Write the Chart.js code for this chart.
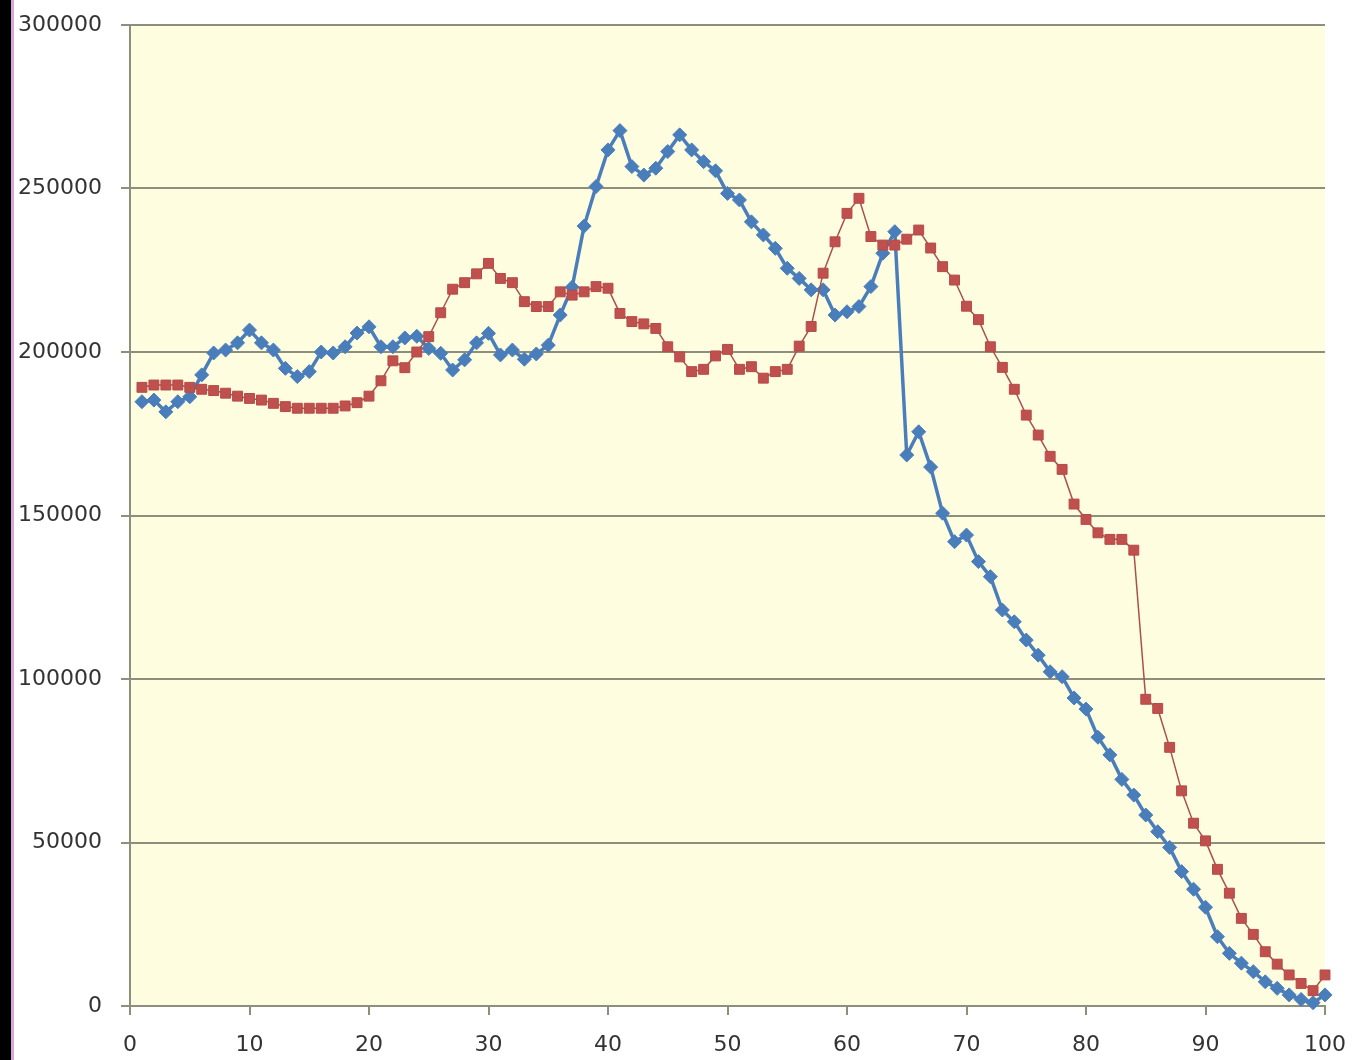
<!DOCTYPE html>
<html>
<head>
<meta charset="utf-8">
<script src="https://cdn.jsdelivr.net/npm/chart.js@4/dist/chart.umd.min.js"></script>
<style>
  html, body { margin: 0; padding: 0; background: #fff; overflow: hidden; }
  #wrap { position: relative; width: 1352px; height: 1060px; }
  #edge { position: absolute; left: 0; top: 0; width: 11px; height: 1060px; background: #000; border-right: 3px solid #d9a6d9; z-index: 2; }
</style>
</head>
<body>
<div id="wrap">
  <div id="edge"></div>
  <canvas id="chart" width="1352" height="1060"></canvas>
</div>
<script>
const xValues = [1,2,3,4,5,6,7,8,9,10,11,12,13,14,15,16,17,18,19,20,
  21,22,23,24,25,26,27,28,29,30,31,32,33,34,35,36,37,38,39,40,
  41,42,43,44,45,46,47,48,49,50,51,52,53,54,55,56,57,58,59,60,
  61,62,63,64,65,66,67,68,69,70,71,72,73,74,75,76,77,78,79,80,
  81,82,83,84,85,86,87,88,89,90,91,92,93,94,95,96,97,98,99,100];

const blueValues = [184800,185300,181700,184800,186300,193000,199700,200600,202800,206700,
  202800,200600,195000,192500,194000,200000,199700,201600,205800,207700,
  201600,201600,204300,204800,201100,199600,194500,197600,202800,205700,
  199100,200600,197800,199400,202100,211300,219800,238500,250600,261800,
  267700,256700,254100,256200,261300,266400,261800,258200,255400,248500,
  246500,239800,235800,231700,225600,222500,219000,219000,211300,212300,
  213900,220000,230200,236800,168500,175600,164800,150700,142000,144000,
  135900,131300,121100,117500,111900,107300,102200,100700,94200,90800,
  82200,76800,69300,64500,58400,53300,48500,41100,35700,30200,
  21200,16100,13100,10500,7400,5400,3400,2000,1000,3400];

const redValues = [189200,189900,189900,189900,189200,188600,188200,187400,186500,185800,
  185300,184300,183300,182800,182800,182800,182800,183500,184500,186500,
  191200,197300,195200,200000,204700,212000,219200,221200,223900,227100,
  222500,221200,215400,213900,213900,218400,217400,218400,220000,219500,
  211800,209300,208600,207200,201600,198500,194000,194700,198800,200800,
  194700,195500,192000,194000,194700,201800,207800,224100,233700,242400,
  247000,235300,232700,232700,234500,237300,231800,226100,222000,214000,
  209900,201600,195300,188600,180700,174600,168100,164100,153500,148800,
  144700,142700,142700,139400,93800,91000,79100,65800,55900,50500,
  41800,34500,26800,21900,16600,12800,9500,6900,4700,9500];

const yTicks = [0, 50000, 100000, 150000, 200000, 250000, 300000];
const xTicks = [0, 10, 20, 30, 40, 50, 60, 70, 80, 90, 100];

const gridColor = '#8e8e7c';

const plotBackground = {
  id: 'plotBackground',
  beforeDraw(chart) {
    const { ctx, chartArea } = chart;
    ctx.save();
    ctx.fillStyle = '#fefde0';
    ctx.fillRect(chartArea.left, chartArea.top, chartArea.right - chartArea.left, chartArea.bottom - chartArea.top);
    ctx.restore();
  }
};

function toPoints(values) {
  return xValues.map((x, i) => ({ x: x, y: values[i] }));
}

new Chart(document.getElementById('chart'), {
  type: 'line',
  data: {
    datasets: [
      {
        label: 'Series 2',
        data: toPoints(redValues),
        borderColor: '#a8524f',
        borderWidth: 1.5,
        pointStyle: 'rect',
        pointRadius: 7,
        pointBackgroundColor: '#c0504d',
        pointBorderColor: '#b44a47',
        pointBorderWidth: 1,
        tension: 0,
        clip: false,
        order: 0
      },
      {
        label: 'Series 1',
        data: toPoints(blueValues),
        borderColor: '#4a7ebb',
        borderWidth: 3.5,
        pointStyle: 'rectRot',
        pointRadius: 7,
        pointBackgroundColor: '#4a7ebb',
        pointBorderColor: '#4a7ebb',
        pointBorderWidth: 1,
        tension: 0,
        clip: false,
        order: 1
      }
    ]
  },
  options: {
    responsive: false,
    animation: false,
    layout: { padding: { top: 25, right: 27, left: 0, bottom: 0 } },
    plugins: {
      legend: { display: false },
      tooltip: { enabled: false }
    },
    scales: {
      x: {
        type: 'linear',
        min: 0,
        max: 100,
        afterBuildTicks(scale) { scale.ticks = xTicks.map(v => ({ value: v })); },
        afterFit(scale) {
          scale.height = 54;
          scale.paddingLeft = 0;
          scale.paddingRight = 0;
        },
        grid: { drawOnChartArea: false, drawTicks: true, tickLength: 9, color: gridColor, lineWidth: 2 },
        border: { display: true, color: gridColor, width: 2 },
        ticks: {
          padding: 17,
          color: '#333',
          font: { family: 'DejaVu Sans', size: 22 },
          maxRotation: 0,
          callback: v => String(v)
        }
      },
      y: {
        min: 0,
        max: 300000,
        afterBuildTicks(scale) { scale.ticks = yTicks.map(v => ({ value: v })); },
        afterFit(scale) {
          scale.width = 130;
          scale.paddingTop = 0;
          scale.paddingBottom = 0;
        },
        grid: { drawTicks: true, tickLength: 9, color: gridColor, lineWidth: 2 },
        border: { display: true, color: gridColor, width: 2 },
        ticks: {
          padding: 19,
          color: '#333',
          font: { family: 'DejaVu Sans', size: 22 },
          callback: v => String(v)
        }
      }
    }
  },
  plugins: [plotBackground]
});
</script>
</body>
</html>
